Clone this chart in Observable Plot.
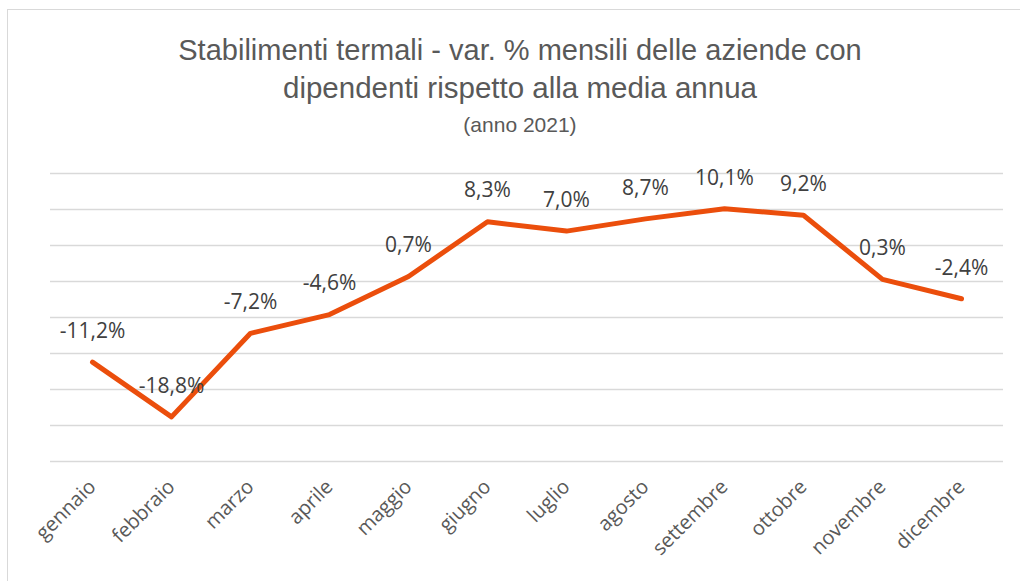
<!DOCTYPE html>
<html>
<head>
<meta charset="utf-8">
<script src="https://cdn.jsdelivr.net/npm/d3@7"></script>
<script src="https://cdn.jsdelivr.net/npm/@observablehq/plot@0.6"></script>
<style>
  html, body { margin: 0; padding: 0; background: #fff; }
  #wrap { position: relative; width: 1020px; height: 581px; overflow: hidden; background: #fff; }
  #frame { position: absolute; left: 7px; top: 9px; right: -5px; bottom: -5px; border-top: 1.5px solid #d9d9d9; border-left: 1.5px solid #d9d9d9; }
  .t { position: absolute; left: 10px; width: 1020px; text-align: center; color: #595959; font-family: "Liberation Sans", sans-serif; white-space: nowrap; }
  #t1 { top: 32px; font-size: 29px; line-height: 36px; }
  #t2 { top: 70px; font-size: 29.5px; line-height: 36px; }
  #t3 { top: 113px; font-size: 21px; line-height: 24px; }
  #chart { position: absolute; left: 0; top: 140px; }
</style>
</head>
<body>
<div id="wrap">
  <div id="frame"></div>
  <div class="t" id="t1">Stabilimenti termali - var. % mensili delle aziende con</div>
  <div class="t" id="t2">dipendenti rispetto alla media annua</div>
  <div class="t" id="t3">(anno 2021)</div>
  <div id="chart"></div>
</div>
<script>
const months = ["gennaio","febbraio","marzo","aprile","maggio","giugno","luglio","agosto","settembre","ottobre","novembre","dicembre"];
const values = [-11.2, -18.8, -7.2, -4.6, 0.7, 8.3, 7.0, 8.7, 10.1, 9.2, 0.3, -2.4];
const gridTicks = [-25, -20, -15, -10, -5, 0, 5, 10, 15];

const data = months.map((m, i) => ({month: m, value: values[i]}));
const fmt = v => v.toFixed(1).replace(".", ",") + "%";

const chart = Plot.plot({
  width: 1020,
  height: 441,
  marginLeft: 50,
  marginRight: 17,
  marginTop: 33,
  marginBottom: 120,
  x: {type: "point", domain: months, padding: 0.5, label: null},
  y: {domain: [-25, 15], label: null},
  style: {background: "transparent"},
  marks: [
    Plot.ruleY(gridTicks, {stroke: "#d9d9d9", strokeWidth: 1.5, strokeOpacity: 1}),
    Plot.axisX({tickRotate: -45, tickSize: 0, tickPadding: 22, fontSize: 20, fill: "#595959", fontFamily: "Open Sans, sans-serif", label: null}),
    Plot.axisY({ticks: [], label: null}),
    Plot.line(data, {x: "month", y: "value", stroke: "#EB4E0C", strokeWidth: 5, strokeLinejoin: "round", strokeLinecap: "round"}),
    Plot.text(data, {x: "month", y: "value", text: d => fmt(d.value), dy: -31, fontSize: 21, fill: "#404040", fontFamily: "Open Sans, sans-serif"})
  ]
});
document.getElementById("chart").appendChild(chart);
</script>
</body>
</html>
